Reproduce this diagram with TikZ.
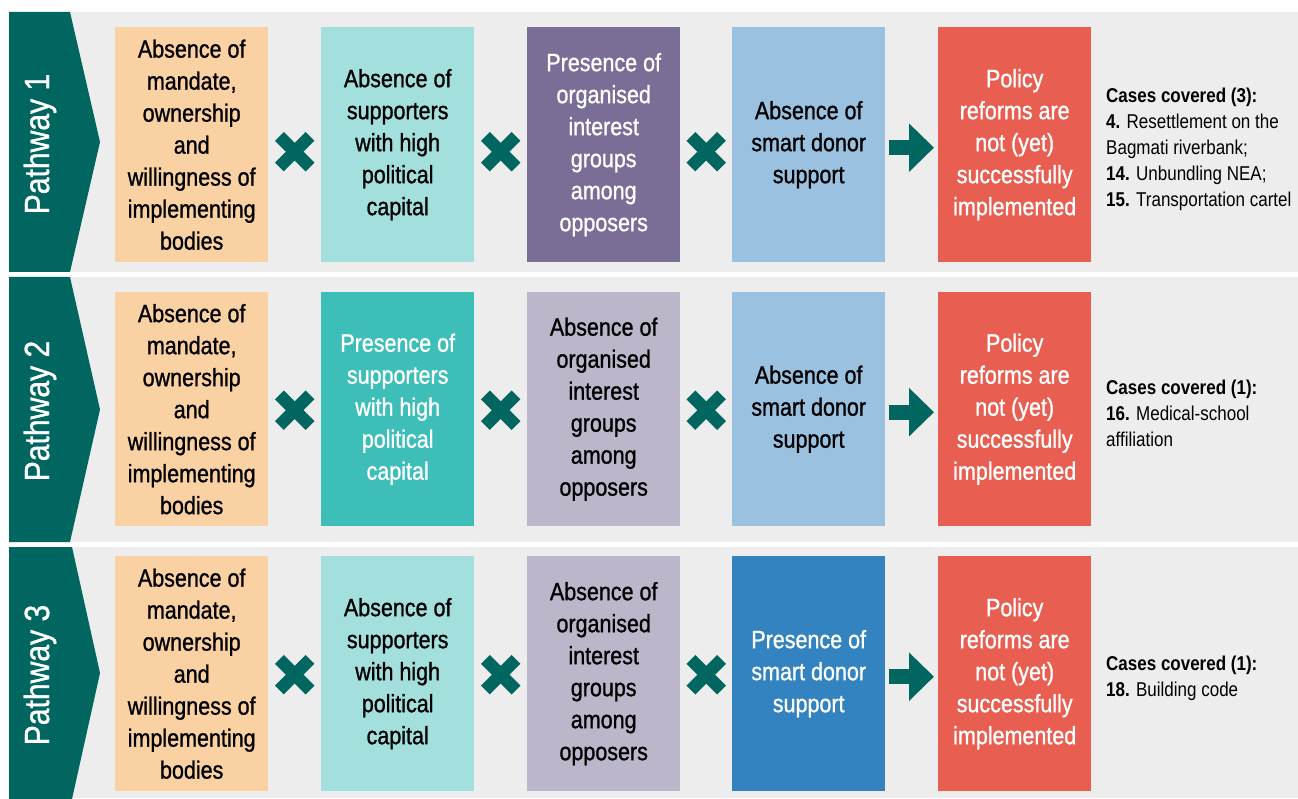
\documentclass[tikz,border=0pt]{standalone}
\usepackage{fontspec}
\setmainfont{Liberation Sans}[FakeStretch=0.85]
\newfontfamily\boxfont{Liberation Sans}[FakeStretch=0.86,FakeBold=1]
\usetikzlibrary{arrows.meta,calc}
\definecolor{bggray}{HTML}{ECEDEC}
\definecolor{tealdark}{HTML}{00665F}
\definecolor{peach}{HTML}{FAD1A3}
\definecolor{lightcyan}{HTML}{A2DFDD}
\definecolor{purple}{HTML}{7A6D96}
\definecolor{lightblue}{HTML}{9BC1E0}
\definecolor{redbox}{HTML}{E85F51}
\definecolor{midteal}{HTML}{3EBEB8}
\definecolor{lavender}{HTML}{BBB6C9}
\definecolor{bluebox}{HTML}{3283BF}
\tikzset{
  bandbg/.style={fill=bggray},
  tabshape/.style={fill=tealdark},
  pathlabel/.style={rotate=90, text=white, font=\boxfont\fontsize{35}{40}\selectfont, inner sep=0pt},
  box/.style={draw=none, minimum width=153pt, inner sep=0pt, align=center,
    font=\boxfont\fontsize{25}{32}\selectfont, anchor=north west},
  darktext/.style={text=black},
  lighttext/.style={text=white},
  crossline/.style={draw=tealdark, line width=12.5pt, line cap=butt},
  flowarrow/.style={draw=tealdark, line width=15pt, -{Triangle[length=25pt,width=47pt,fill=tealdark]}},
  cases/.style={anchor=west, align=left, inner sep=0pt, font=\fontsize{20}{26}\selectfont},
}
% #1,#2: neighbouring boxes, #3: vertical offset of the cross
\newcommand{\xcross}[3]{%
  \path ($(#1.east)!0.5!(#2.west)$) ++(0,#3) coordinate (xc);
  \draw[crossline] ($(xc)+(-15.3,-15.3)$) -- ($(xc)+(15.3,15.3)$);
  \draw[crossline] ($(xc)+(-15.3,15.3)$) -- ($(xc)+(15.3,-15.3)$);
}
\begin{document}
\begin{tikzpicture}[x=1pt,y=-1pt]
\useasboundingbox (0,0) rectangle (1298,799);
\fill[white] (0,0) rectangle (1298,799);
% ---------------- Pathway 1
\fill[bandbg] (9,12) rectangle (1298,272);
\fill[tabshape] (9,12) -- (70,12) -- (100,142) -- (70,272) -- (9,272) -- cycle;
\node[pathlabel] (p1) at (40,144) {Pathway 1};
\node[box, fill=peach, darktext, minimum height=235] (a1) at (115,27) {Absence of\\mandate,\\ownership\\and\\willingness of\\implementing\\bodies};
\node[box, fill=lightcyan, darktext, minimum height=235] (b1) at (321,27) {Absence of\\supporters\\with high\\political\\capital};
\node[box, fill=purple, lighttext, minimum height=235] (c1) at (527,27) {Presence of\\organised\\interest\\groups\\among\\opposers};
\node[box, fill=lightblue, darktext, minimum height=235] (d1) at (732,27) {Absence of\\smart donor\\support};
\node[box, fill=redbox, lighttext, minimum height=235] (e1) at (938,27) {Policy\\reforms are\\not (yet)\\successfully\\implemented};
\xcross{a1}{b1}{7}
\xcross{b1}{c1}{7}
\xcross{c1}{d1}{7}
\draw[flowarrow] ([xshift=4pt,yshift=-3pt]d1.east) -- ([xshift=-4pt,yshift=-3pt]e1.west);
\node[cases] (k1) at (1106,149) {\textbf{Cases covered (3):}\\\textbf{4.} Resettlement on the\\Bagmati riverbank;\\\textbf{14.} Unbundling NEA;\\\textbf{15.} Transportation cartel};
% ---------------- Pathway 2
\fill[bandbg] (9,277) rectangle (1298,542);
\fill[tabshape] (9,277) -- (70,277) -- (100,409.5) -- (70,542) -- (9,542) -- cycle;
\node[pathlabel] (p2) at (40,411) {Pathway 2};
\node[box, fill=peach, darktext, minimum height=234] (a2) at (115,292) {Absence of\\mandate,\\ownership\\and\\willingness of\\implementing\\bodies};
\node[box, fill=midteal, lighttext, minimum height=234] (b2) at (321,292) {Presence of\\supporters\\with high\\political\\capital};
\node[box, fill=lavender, darktext, minimum height=234] (c2) at (527,292) {Absence of\\organised\\interest\\groups\\among\\opposers};
\node[box, fill=lightblue, darktext, minimum height=234] (d2) at (732,292) {Absence of\\smart donor\\support};
\node[box, fill=redbox, lighttext, minimum height=234] (e2) at (938,292) {Policy\\reforms are\\not (yet)\\successfully\\implemented};
\xcross{a2}{b2}{1}
\xcross{b2}{c2}{1}
\xcross{c2}{d2}{1}
\draw[flowarrow] ([xshift=4pt,yshift=-3pt]d2.east) -- ([xshift=-4pt,yshift=-3pt]e2.west);
\node[cases] (k2) at (1106,413) {\textbf{Cases covered (1):}\\\textbf{16.} Medical-school\\affiliation};
% ---------------- Pathway 3
\fill[bandbg] (9,547) rectangle (1298,798);
\fill[tabshape] (9,547) -- (72,547) -- (100,673) -- (72,799) -- (9,799) -- cycle;
\node[pathlabel] (p3) at (40,675) {Pathway 3};
\node[box, fill=peach, darktext, minimum height=235] (a3) at (115,556) {Absence of\\mandate,\\ownership\\and\\willingness of\\implementing\\bodies};
\node[box, fill=lightcyan, darktext, minimum height=235] (b3) at (321,556) {Absence of\\supporters\\with high\\political\\capital};
\node[box, fill=lavender, darktext, minimum height=235] (c3) at (527,556) {Absence of\\organised\\interest\\groups\\among\\opposers};
\node[box, fill=bluebox, lighttext, minimum height=235] (d3) at (732,556) {Presence of\\smart donor\\support};
\node[box, fill=redbox, lighttext, minimum height=235] (e3) at (938,556) {Policy\\reforms are\\not (yet)\\successfully\\implemented};
\xcross{a3}{b3}{1}
\xcross{b3}{c3}{1}
\xcross{c3}{d3}{1}
\draw[flowarrow] ([xshift=4pt,yshift=-3pt]d3.east) -- ([xshift=-4pt,yshift=-3pt]e3.west);
\node[cases] (k3) at (1106,678) {\textbf{Cases covered (1):}\\\textbf{18.} Building code};
\end{tikzpicture}
\end{document}
